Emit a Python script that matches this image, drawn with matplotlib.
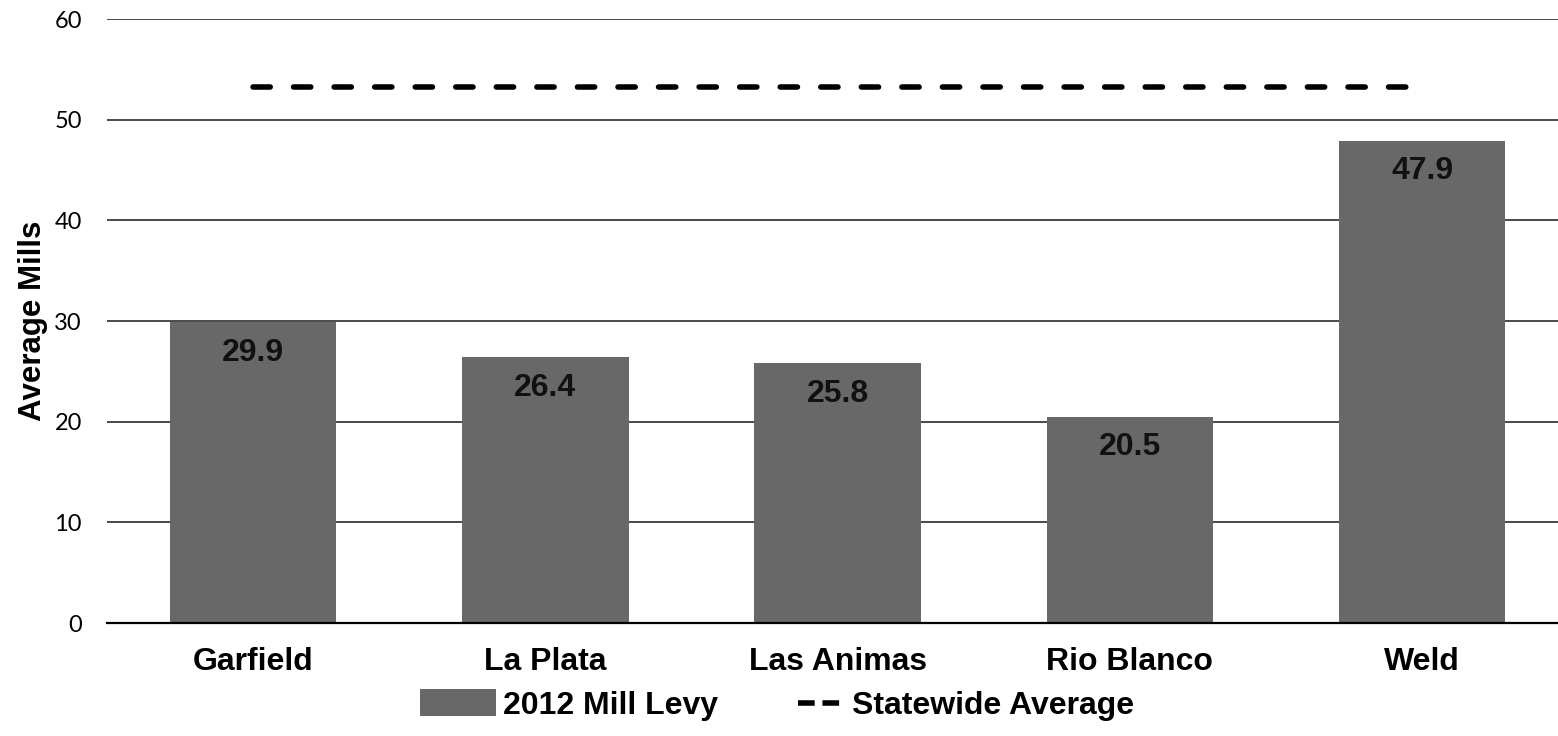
import matplotlib
matplotlib.use("Agg")
import matplotlib.pyplot as plt
from matplotlib.lines import Line2D
from matplotlib.patches import Patch
from matplotlib.legend_handler import HandlerLine2D

categories = ["Garfield", "La Plata", "Las Animas", "Rio Blanco", "Weld"]
mill_levy = [29.9, 26.4, 25.8, 20.5, 47.9]
statewide_avg = [53.2, 53.2, 53.2, 53.2, 53.2]
yticks = [0, 10, 20, 30, 40, 50, 60]

FONT = "Liberation Sans"
fig = plt.figure(figsize=(15.58, 7.36), dpi=100)
ax = fig.add_axes([107/1558, 1-623/736, 1-107/1558, (623-19)/736])

x = list(range(len(categories)))
bar_color = "#686868"
ax.bar(x, mill_levy, width=0.57, color=bar_color, zorder=3)
ax.plot(x, statewide_avg, color="black", lw=4, linestyle=(0, (3.1, 4.2)),
        dash_capstyle="round", zorder=4)

for xi, v in zip(x, mill_levy):
    ax.annotate(f"{v:.1f}", (xi, v), xytext=(0, -22), textcoords="offset points",
                ha="center", va="center", fontsize=23, fontweight="bold",
                family=FONT, color="#111111", zorder=5)

ax.set_xlim(-0.5, 4.465)
ax.set_ylim(0, 60)
ax.set_yticks(yticks)
ax.set_yticklabels([str(t) for t in yticks], fontsize=17, family="Lato")
ax.set_xticks(x)
ax.set_xticklabels(categories, fontsize=23, fontweight="bold", family=FONT)
ax.tick_params(axis="both", length=0)
ax.tick_params(axis="y", pad=18)
ax.tick_params(axis="x", pad=17)
ax.yaxis.grid(True, color="#2a2a2a", lw=1.2, zorder=0)
ax.set_axisbelow(True)
for s in ["top", "right", "left"]:
    ax.spines[s].set_visible(False)
ax.spines["bottom"].set_color("black")
ax.spines["bottom"].set_linewidth(1.6)
ax.spines["bottom"].set_zorder(6)

ax.set_ylabel("Average Mills", fontsize=22.5, fontweight="bold", family=FONT)
ax.yaxis.set_label_coords(-59/1451, 0.5)


class ShortLineHandler(HandlerLine2D):
    def create_artists(self, legend, orig_handle, xdescent, ydescent, width,
                       height, fontsize, trans):
        y = height / 2 - ydescent
        x0 = -xdescent + width * 0.38
        line = Line2D([x0, -xdescent + width * 0.92], [y, y], color="black", lw=4,
                      linestyle=(0, (3.0, 1.4)), dash_capstyle="butt")
        line.set_transform(trans)
        return [line]


handles = [Patch(facecolor=bar_color, edgecolor="none"),
           Line2D([0], [0], color="black", lw=4)]
fig.legend(handles, ["2012 Mill Levy", "Statewide Average"], loc="center",
           bbox_to_anchor=(777/1558, 1-705/736), ncol=2, frameon=False,
           prop={"family": FONT, "weight": "bold", "size": 23},
           handlelength=2.4, handleheight=0.9, handletextpad=0.2, columnspacing=1.6,
           handler_map={Line2D: ShortLineHandler()})

fig.savefig("out.png", dpi=100)
